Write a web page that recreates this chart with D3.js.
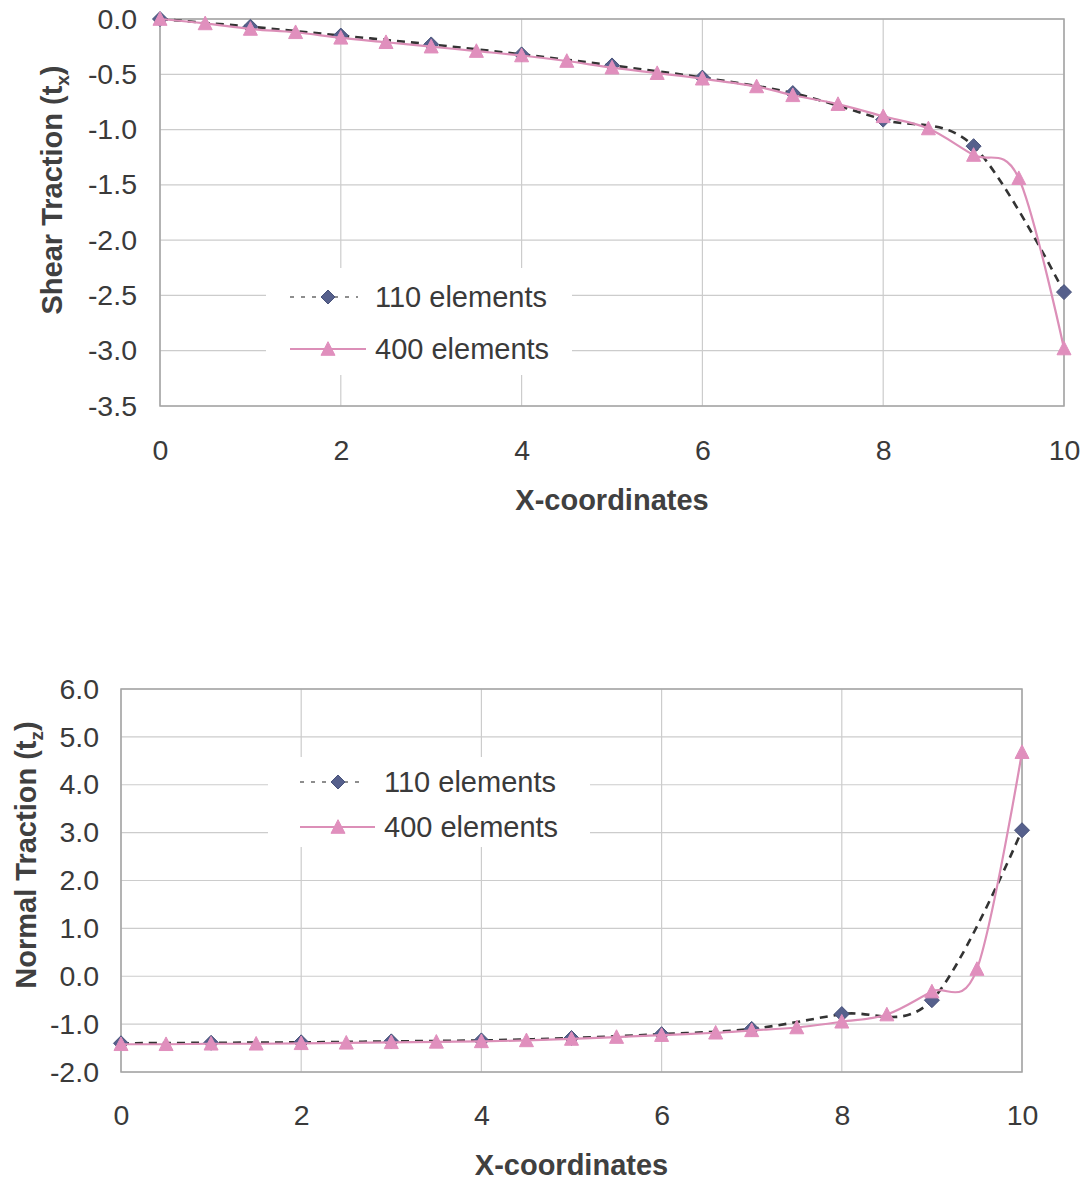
<!DOCTYPE html>
<html><head><meta charset="utf-8">
<script src="https://cdn.jsdelivr.net/npm/d3@7"></script>
<style>body{margin:0;background:#fff}</style>
</head><body><svg id="c" width="1081" height="1181"></svg>
<script>
const xTicks = [0, 2, 4, 6, 8, 10];
const x110 = [0, 1, 2, 3, 4, 5, 6, 7, 8, 9, 10];
const x400 = [0, 0.5, 1, 1.5, 2, 2.5, 3, 3.5, 4, 4.5, 5, 5.5, 6, 6.6, 7, 7.5, 8, 8.5, 9, 9.5, 10];
const shear110 = [0, -0.07, -0.15, -0.23, -0.32, -0.42, -0.53, -0.67, -0.91, -1.15, -2.47];
const shear400 = [0, -0.04, -0.09, -0.12, -0.17, -0.21, -0.25, -0.29, -0.33, -0.38, -0.44, -0.49, -0.54, -0.61, -0.69, -0.77, -0.88, -0.99, -1.23, -1.44, -2.98];
const normal110 = [-1.40, -1.39, -1.38, -1.36, -1.34, -1.29, -1.21, -1.10, -0.79, -0.50, 3.05];
const normal400 = [-1.42, -1.42, -1.41, -1.41, -1.40, -1.39, -1.38, -1.37, -1.36, -1.34, -1.31, -1.27, -1.23, -1.18, -1.13, -1.07, -0.95, -0.80, -0.32, 0.15, 4.68];
const shearTicks = [0, -0.5, -1, -1.5, -2, -2.5, -3, -3.5];
const normalTicks = [6, 5, 4, 3, 2, 1, 0, -1, -2];
const seriesNames = ["110 elements", "400 elements"];
const xTitle = "X-coordinates";
const shearTitle = ["Shear Traction (t", "x", ")"];
const normalTitle = ["Normal Traction (t", "z", ")"];

const FONT = "Liberation Sans, Arial, sans-serif";
const C110 = "#56608c", D110 = "#333333", C400 = "#e08fbd", L400 = "#dc8fb8";
const svg = d3.select("#c");

function diamond(g, cx, cy, r) {
  g.append("path").attr("d", `M${cx},${cy - r}L${cx + r},${cy}L${cx},${cy + r}L${cx - r},${cy}Z`)
    .attr("fill", C110).attr("stroke", "#48527a").attr("stroke-width", 1);
}
function triangle(g, cx, cy, s) {
  const h = s * 0.9;
  g.append("path").attr("d", `M${cx},${cy - h / 2 - 1}L${cx + s / 2},${cy + h / 2}L${cx - s / 2},${cy + h / 2}Z`)
    .attr("fill", C400).attr("stroke", C400).attr("stroke-width", 1);
}

function drawChart(o) {
  const g = svg.append("g");
  const x = d3.scaleLinear().domain([0, 10]).range([o.left, o.right]);
  const y = d3.scaleLinear().domain(o.yDomain).range([o.top, o.bottom]);

  g.append("g").selectAll("line").data(o.yTicks).join("line")
    .attr("x1", o.left).attr("x2", o.right).attr("y1", d => y(d)).attr("y2", d => y(d))
    .attr("stroke", "#cccccc").attr("stroke-width", 1.2);
  g.append("g").selectAll("line").data(xTicks).join("line")
    .attr("x1", d => x(d)).attr("x2", d => x(d)).attr("y1", o.top).attr("y2", o.bottom)
    .attr("stroke", "#cccccc").attr("stroke-width", 1.2);

  const L = o.legend;
  g.append("rect").attr("x", L.x0).attr("y", L.y0).attr("width", L.x1 - L.x0).attr("height", L.y1 - L.y0).attr("fill", "#fff");

  g.append("rect").attr("x", o.left).attr("y", o.top).attr("width", o.right - o.left).attr("height", o.bottom - o.top)
    .attr("fill", "none").attr("stroke", "#a4a4a4").attr("stroke-width", 1.5);

  const ya = g.append("g").attr("transform", `translate(${o.left},0)`)
    .call(d3.axisLeft(y).tickValues(o.yTicks).tickFormat(d => d.toFixed(1)).tickSize(0).tickPadding(o.yPad));
  const xa = g.append("g").attr("transform", `translate(0,${o.bottom})`)
    .call(d3.axisBottom(x).tickValues(xTicks).tickFormat(d => String(d)).tickSize(0).tickPadding(o.xPad));
  [ya, xa].forEach(a => {
    a.select(".domain").remove();
    a.selectAll("text").attr("font-family", FONT).attr("font-size", 28.5).attr("fill", "#3a3a3a");
  });

  g.append("text").attr("x", (o.left + o.right) / 2).attr("y", o.xTitleY).attr("text-anchor", "middle")
    .attr("font-family", FONT).attr("font-weight", "bold").attr("font-size", 29).attr("fill", "#404040").text(xTitle);
  const yt = g.append("text").attr("transform", `translate(${o.yTitleX},${o.yTitleY}) rotate(-90)`)
    .attr("text-anchor", "middle").attr("font-family", FONT).attr("font-weight", "bold").attr("font-size", 29).attr("fill", "#404040");
  yt.append("tspan").text(o.yTitle[0]);
  yt.append("tspan").attr("font-size", 19).attr("dy", 7).text(o.yTitle[1]);
  yt.append("tspan").attr("dy", -7).text(o.yTitle[2]);

  const curve = d3.curveCardinal.tension(0);
  const line = d3.line().x(d => x(d[0])).y(d => y(d[1])).curve(curve);
  const d110 = x110.map((v, i) => [v, o.ys110[i]]);
  const d400 = x400.map((v, i) => [v, o.ys400[i]]);

  g.append("path").attr("d", line(d110)).attr("fill", "none").attr("stroke", D110)
    .attr("stroke-width", 2.6).attr("stroke-dasharray", "8,6");
  d110.forEach(p => diamond(g, x(p[0]), y(p[1]), 7.5));
  g.append("path").attr("d", line(d400)).attr("fill", "none").attr("stroke", L400).attr("stroke-width", 2.2);
  d400.forEach(p => triangle(g, x(p[0]), y(p[1]), 14));

  g.append("line").attr("x1", L.lx0).attr("x2", L.lx1a).attr("y1", L.r1).attr("y2", L.r1)
    .attr("stroke", "#6a6a6a").attr("stroke-width", 1.5).attr("stroke-dasharray", "4,7");
  diamond(g, L.mx, L.r1, 7);
  g.append("line").attr("x1", L.lx0).attr("x2", L.lx1b).attr("y1", L.r2).attr("y2", L.r2)
    .attr("stroke", L400).attr("stroke-width", 1.8);
  triangle(g, L.mx, L.r2, 14);
  [L.r1, L.r2].forEach((ry, i) => {
    g.append("text").attr("x", L.tx).attr("y", ry).attr("dy", "0.36em").attr("font-family", FONT)
      .attr("font-size", 29).attr("fill", "#3a3a3a").text(seriesNames[i]);
  });
}

drawChart({
  left: 160, right: 1064, top: 19, bottom: 406, yDomain: [0, -3.5], yTicks: shearTicks,
  ys110: shear110, ys400: shear400, yPad: 23, xPad: 34, xTitleY: 510,
  yTitle: shearTitle, yTitleX: 62, yTitleY: 190,
  legend: { x0: 266, x1: 572, y0: 268, y1: 375, r1: 297, r2: 349, lx0: 290, lx1a: 358, lx1b: 366, mx: 328, tx: 375 }
});
drawChart({
  left: 121, right: 1022, top: 689, bottom: 1072, yDomain: [6, -2], yTicks: normalTicks,
  ys110: normal110, ys400: normal400, yPad: 22, xPad: 33, xTitleY: 1175,
  yTitle: normalTitle, yTitleX: 36, yTitleY: 855,
  legend: { x0: 268, x1: 590, y0: 757, y1: 847, r1: 782, r2: 827, lx0: 300, lx1a: 365, lx1b: 375, mx: 338, tx: 384 }
});
</script></body></html>
